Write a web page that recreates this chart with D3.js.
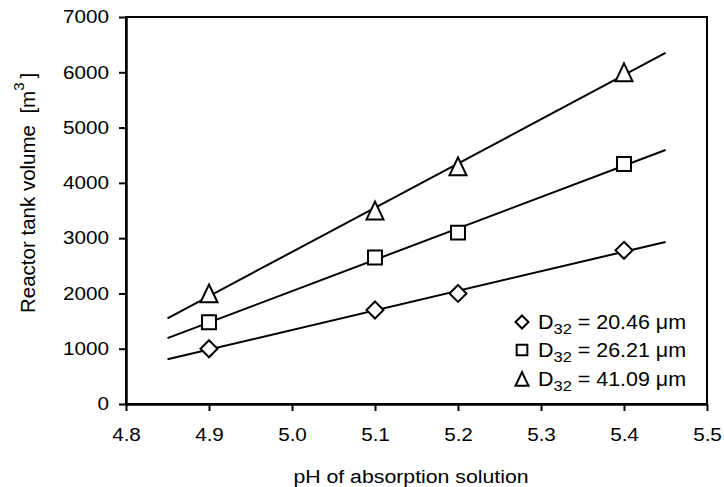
<!DOCTYPE html>
<meta charset="utf-8">

<style>
  body { margin: 0; background: #fff; }
  text { font-family: Arial, "Liberation Sans", sans-serif; fill: #000; }
</style>

<svg class="chart"></svg>

<script src="https://d3js.org/d3.v7.min.js"></script>
<script>

  // values
  var phValues  = [4.9, 5.1, 5.2, 5.4];
  var smallDrop = [1000, 1700, 2000, 2780];
  var midDrop   = [1480, 2650, 3100, 4340];
  var largeDrop = [2000, 3500, 4300, 6000];

  var seriesNames  = ["20.46", "26.21", "41.09"];
  var seriesShapes = ["diamond", "square", "triangle"];

  var xTicks = [4.8, 4.9, 5.0, 5.1, 5.2, 5.3, 5.4, 5.5];
  var yTicks = [0, 1000, 2000, 3000, 4000, 5000, 6000, 7000];
  var fitRange = [4.85, 5.45];

  var width  = 724;
  var height = 487;

  var margin = { top: 17, right: 17, bottom: 83, left: 126 };

  // the original lettering is a little wider than Arial
  var stretch = 1.15;

  var chart = d3.select(".chart")
      .attr("width", width)
      .attr("height", height);

  var x = d3.scaleLinear()
      .domain([4.8, 5.5])
      .range([margin.left, width - margin.right]);

  var y = d3.scaleLinear()
      .domain([0, 7000])
      .range([height - margin.bottom, margin.top]);

  var series = [smallDrop, midDrop, largeDrop].map(function(values, i) {
    return {
      name   : seriesNames[i],
      shape  : seriesShapes[i],
      points : values.map(function(v, j) { return { x: phValues[j], y: v }; })
    };
  });

  // least squares line for each series
  function fit(points) {
    var mx = d3.mean(points, function(p) { return p.x; });
    var my = d3.mean(points, function(p) { return p.y; });
    var sxy = d3.sum(points, function(p) { return (p.x - mx) * (p.y - my); });
    var sxx = d3.sum(points, function(p) { return (p.x - mx) * (p.x - mx); });
    var slope = sxy / sxx;
    return fitRange.map(function(xv) { return { x: xv, y: my + slope * (xv - mx) }; });
  }

  function shapePath(shape, s) {
    if (shape === "diamond") {
      return "M0," + (-s) + "L" + s + ",0L0," + s + "L" + (-s) + ",0Z";
    }
    if (shape === "square") {
      var h = s * 0.82;
      return "M" + (-h) + "," + (-h) + "H" + h + "V" + h + "H" + (-h) + "Z";
    }
    var hh = s * 1.05;
    return "M0," + (-hh) + "L" + s + "," + hh + "L" + (-s) + "," + hh + "Z";
  }

  // frame
  chart.append("rect")
      .attr("x", x(4.8))
      .attr("y", y(7000))
      .attr("width", x(5.5) - x(4.8))
      .attr("height", y(0) - y(7000))
      .attr("fill", "none")
      .attr("stroke", "#000")
      .attr("stroke-width", 2);

  var xAxis = chart.append("g")
      .attr("transform", "translate(0," + y(0) + ")")
      .call(d3.axisBottom(x).tickValues(xTicks).tickFormat(d3.format(".1f")).tickSize(7).tickSizeOuter(0).tickPadding(17));

  var yAxis = chart.append("g")
      .attr("transform", "translate(" + x(4.8) + ",0)")
      .call(d3.axisLeft(y).tickValues(yTicks).tickFormat(d3.format("d")).tickSize(7).tickSizeOuter(0).tickPadding(10));

  [xAxis, yAxis].forEach(function(axis) {
    axis.select(".domain").attr("stroke-width", 2.5);
    axis.selectAll(".tick line").attr("stroke-width", 2);
    axis.selectAll(".tick text")
        .style("font-size", "18px")
        .style("font-family", "Arial, 'Liberation Sans', sans-serif")
        .attr("transform", "scale(" + stretch + ",1)");
  });
  yAxis.selectAll(".tick text").attr("x", -17 / stretch);

  var line = d3.line()
      .x(function(d) { return x(d.x); })
      .y(function(d) { return y(d.y); });

  chart.append("g")
    .selectAll("path")
    .data(series)
    .enter().append("path")
        .attr("d", function(d) { return line(fit(d.points)); })
        .attr("fill", "none")
        .attr("stroke", "#000")
        .attr("stroke-width", 2);

  series.forEach(function(s) {
    chart.append("g")
      .selectAll("path")
      .data(s.points)
      .enter().append("path")
          .attr("transform", function(d) { return "translate(" + x(d.x) + "," + y(d.y) + ")"; })
          .attr("d", shapePath(s.shape, 8.5))
          .attr("fill", "#fff")
          .attr("stroke", "#000")
          .attr("stroke-width", 2);
  });

  // legend
  var legend = chart.append("g");
  var legendBaselines = [329, 357, 386];

  series.forEach(function(s, i) {
    legend.append("path")
        .attr("transform", "translate(522," + (legendBaselines[i] - 7) + ")")
        .attr("d", shapePath(s.shape, 6.5))
        .attr("fill", "#fff")
        .attr("stroke", "#000")
        .attr("stroke-width", 2);

    var t = legend.append("text")
        .attr("transform", "translate(538," + legendBaselines[i] + ") scale(1.1,1)")
        .style("font-size", "19.5px");
    t.append("tspan").text("D");
    t.append("tspan").attr("dy", 5).style("font-size", "15px").text("32");
    t.append("tspan").attr("dy", -5).text(" = " + s.name + " \u03bcm");
  });

  // axis titles
  chart.append("text")
      .attr("transform", "translate(411,483) scale(1.12,1)")
      .attr("text-anchor", "middle")
      .style("font-size", "19px")
      .text("pH of absorption solution");

  var yTitle = chart.append("text")
      .attr("transform", "translate(35,313) rotate(-90)")
      .attr("text-anchor", "start")
      .style("font-size", "20.5px");
  yTitle.append("tspan").text("Reactor tank volume\u00a0\u00a0[m");
  yTitle.append("tspan").attr("dy", -11).style("font-size", "15px").text("3");
  yTitle.append("tspan").attr("dy", 11).text("\u2009]");

</script>
